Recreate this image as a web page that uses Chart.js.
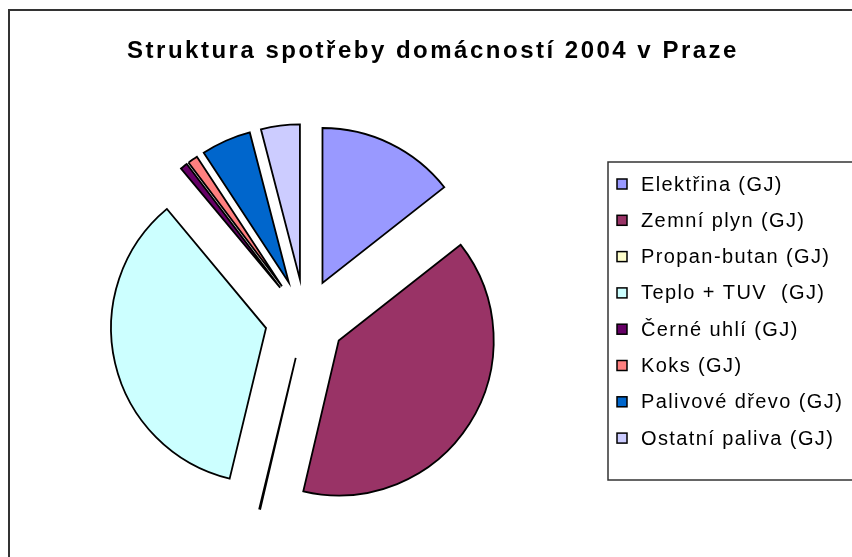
<!DOCTYPE html>
<html>
<head>
<meta charset="utf-8">
<script src="https://cdn.jsdelivr.net/npm/chart.js@4/dist/chart.umd.min.js"></script>
<style>
  html, body { margin: 0; padding: 0; background: #fff; }
</style>
</head>
<body>
<canvas id="chart" width="852" height="557"></canvas>
<script>
const titleText = 'Struktura spotřeby domácností 2004 v Praze';
const categories = [
  'Elektřina (GJ)',
  'Zemní plyn (GJ)',
  'Propan-butan (GJ)',
  'Teplo + TUV  (GJ)',
  'Černé uhlí (GJ)',
  'Koks (GJ)',
  'Palivové dřevo (GJ)',
  'Ostatní paliva (GJ)'
];
const shares = [14.4, 39.3, 0.1, 35.2, 0.75, 1.05, 5.2, 4.05];
const sliceColors = ['#9999FF', '#993366', '#FFFFCC', '#CCFFFF', '#660066', '#FF8080', '#0066CC', '#CCCCFF'];

const explodeDistance = 40;

// pull every slice out along its middle angle (Chart.js offset also grows the radius)
const explodePlugin = {
  id: 'explode',
  afterDatasetUpdate(chart, args) {
    args.meta.data.forEach(arc => {
      const mid = (arc.startAngle + arc.endAngle) / 2;
      arc.x += Math.cos(mid) * explodeDistance;
      arc.y += Math.sin(mid) * explodeDistance;
    });
  }
};

// outer frame, title and boxed legend like the Excel original
const framePlugin = {
  id: 'frame',
  afterDraw(chart) {
    const ctx = chart.ctx;
    ctx.save();
    ctx.strokeStyle = '#333';
    ctx.lineWidth = 2;
    ctx.strokeRect(9, 10, 900, 600);

    ctx.fillStyle = '#000';
    ctx.font = 'bold 24px "Liberation Sans", Arial, sans-serif';
    ctx.letterSpacing = '2.5px';
    ctx.textAlign = 'center';
    ctx.textBaseline = 'alphabetic';
    ctx.fillText(titleText, 433, 58);

    ctx.strokeStyle = '#333';
    ctx.lineWidth = 1.5;
    ctx.strokeRect(608, 162, 260, 318);

    const colors = chart.data.datasets[0].backgroundColor;
    ctx.font = '20px "Liberation Sans", Arial, sans-serif';
    ctx.letterSpacing = '1.4px';
    ctx.textAlign = 'left';
    ctx.textBaseline = 'middle';
    chart.data.labels.forEach((label, i) => {
      const y = 184 + i * 36.3;
      ctx.fillStyle = colors[i];
      ctx.fillRect(617, y - 5, 10, 10);
      ctx.strokeStyle = '#000';
      ctx.lineWidth = 1.5;
      ctx.strokeRect(617, y - 5, 10, 10);
      ctx.fillStyle = '#000';
      ctx.fillText(label, 641, y + 1);
    });
    ctx.restore();
  }
};

new Chart(document.getElementById('chart'), {
  type: 'pie',
  data: {
    labels: categories,
    datasets: [{
      data: shares,
      backgroundColor: sliceColors,
      borderColor: '#000',
      borderWidth: 1.8,
      borderJoinStyle: 'miter'
    }]
  },
  options: {
    responsive: false,
    animation: false,
    radius: 155,
    layout: { padding: { left: 0, right: 242, top: 81, bottom: 0 } },
    plugins: {
      legend: { display: false },
      title: { display: false },
      tooltip: { enabled: false }
    }
  },
  plugins: [explodePlugin, framePlugin]
});
</script>
</body>
</html>
